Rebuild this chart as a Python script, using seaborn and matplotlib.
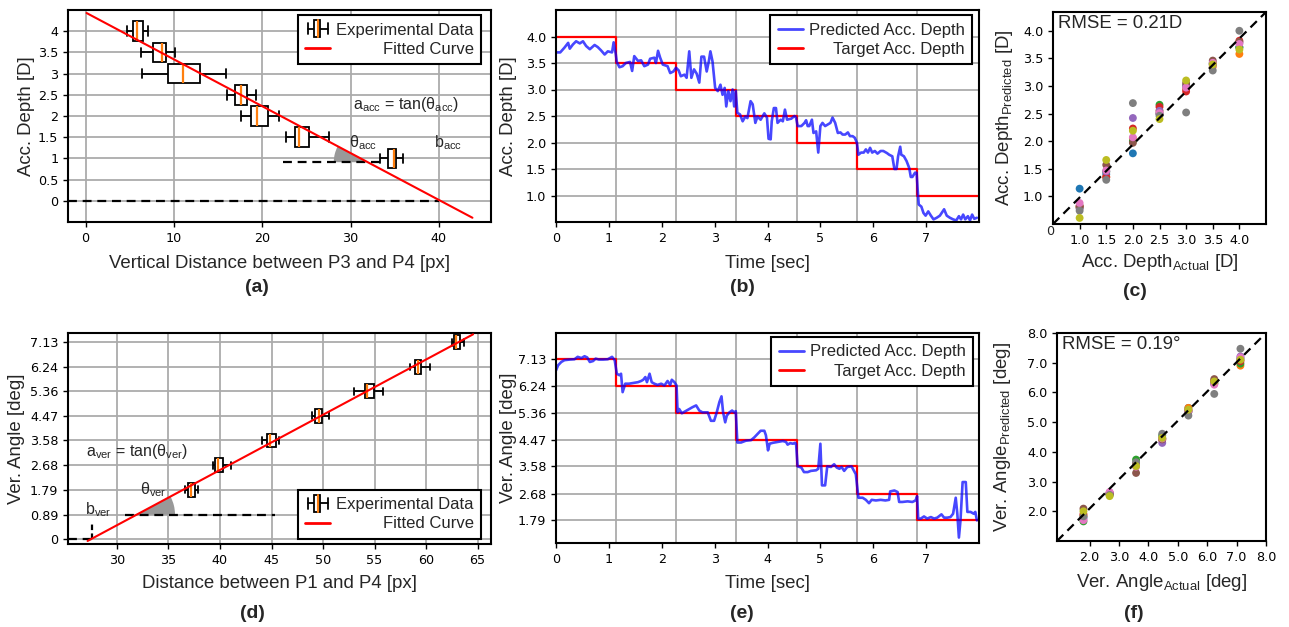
import numpy as np
import pandas as pd
import matplotlib
matplotlib.use("Agg")
import matplotlib.pyplot as plt
import seaborn as sns
from matplotlib.patches import Rectangle, Wedge
from matplotlib.lines import Line2D
from matplotlib.legend_handler import HandlerBase
from matplotlib.transforms import ScaledTranslation

# ---------------- data ----------------
# (a) accommodation depth vs vertical distance (box stats)
a_depth = [4.0, 3.5, 3.0, 2.5, 2.0, 1.5, 1.0]
a_whislo = [4.65, 6.31, 6.42, 15.98, 17.60, 22.70, 33.35]
a_q1 = [5.33, 7.67, 9.37, 16.92, 18.73, 23.72, 34.22]
a_med = [5.82, 8.61, 11.03, 17.60, 19.38, 24.14, 34.86]
a_q3 = [6.53, 9.14, 12.92, 18.24, 20.66, 25.27, 35.13]
a_whishi = [7.10, 10.12, 15.94, 19.26, 21.90, 27.50, 35.88]
a_fit_slope = -0.1105
a_fit_intercept = 4.44
a_fit_xrange = [0.1, 43.8]
a_zero_x = [-2.0, 40.0]
a_zero_y = [0.0, 0.0]
a_ref_x = [22.4, 33.35]
a_ref_y = [0.91, 0.91]
a_yticks = [0, 0.5, 1, 1.5, 2, 2.5, 3, 3.5, 4]
a_yticklabels = ["0", "0.5", "1", "1.5", "2", "2.5", "3", "3.5", "4"]
a_xticks = [0, 10, 20, 30, 40]

# (d) vertical angle vs distance (box stats)
d_angle = [1.79, 2.68, 3.58, 4.47, 5.36, 6.24, 7.13]
d_whislo = [36.63, 39.32, 44.08, 48.93, 52.98, 58.41, 62.52]
d_q1 = [36.86, 39.55, 44.56, 49.26, 54.11, 58.90, 62.75]
d_med = [37.18, 39.77, 44.82, 49.58, 54.27, 59.22, 62.94]
d_q3 = [37.60, 40.29, 45.44, 49.94, 54.92, 59.55, 63.27]
d_whishi = [37.90, 41.10, 45.70, 50.55, 55.79, 60.42, 63.66]
d_fit_slope = 0.2
d_fit_intercept = -5.49
d_fit_xrange = [27.15, 64.56]
d_zero_x = [25.25, 27.6]
d_zero_y = [0.0, 0.0]
d_bvert_x = [27.6, 27.6]
d_bvert_y = [0.0, 0.55]
d_ref_x = [30.8, 45.3]
d_ref_y = [0.89, 0.89]
d_yticks = [0, 0.89, 1.79, 2.68, 3.58, 4.47, 5.36, 6.24, 7.13]
d_yticklabels = ["0", "0.89", "1.79", "2.68", "3.58", "4.47", "5.36", "6.24", "7.13"]
d_xticks = [30, 35, 40, 45, 50, 55, 60, 65]

# (b) accommodation depth over time
b_time = [0.00, 0.08, 0.16, 0.23, 0.26, 0.32, 0.38, 0.45, 0.51, 0.57, 0.64, 0.73, 0.79, 0.85,
          0.92, 0.98, 1.06, 1.09, 1.13, 1.15, 1.20, 1.26, 1.32, 1.40, 1.44, 1.48, 1.55, 1.61,
          1.67, 1.74, 1.78, 1.86, 1.89, 1.93, 1.97, 2.02, 2.11, 2.16, 2.22, 2.27, 2.32, 2.36,
          2.43, 2.47, 2.52, 2.56, 2.61, 2.66, 2.71, 2.75, 2.80, 2.85, 2.89, 2.92, 2.96, 3.01,
          3.06, 3.11, 3.15, 3.19, 3.22, 3.26, 3.30, 3.34, 3.37, 3.40, 3.43, 3.48, 3.53, 3.58,
          3.62, 3.68, 3.72, 3.77, 3.81, 3.87, 3.94, 3.99, 4.02, 4.06, 4.08, 4.12, 4.16, 4.19,
          4.25, 4.29, 4.33, 4.37, 4.45, 4.51, 4.54, 4.57, 4.64, 4.70, 4.73, 4.76, 4.79, 4.84,
          4.87, 4.92, 4.96, 5.00, 5.04, 5.09, 5.14, 5.19, 5.23, 5.28, 5.33, 5.38, 5.42, 5.47,
          5.52, 5.56, 5.61, 5.65, 5.69, 5.72, 5.77, 5.82, 5.86, 5.90, 5.94, 5.98, 6.03, 6.08,
          6.14, 6.19, 6.26, 6.30, 6.36, 6.40, 6.44, 6.47, 6.51, 6.53, 6.58, 6.63, 6.68, 6.71,
          6.74, 6.79, 6.82, 6.84, 6.86, 6.91, 6.95, 6.99, 7.04, 7.09, 7.14, 7.20, 7.26, 7.34,
          7.39, 7.45, 7.51, 7.57, 7.62, 7.66, 7.70, 7.74, 7.79, 7.83, 7.87, 7.91, 7.96]
b_pred = [3.70, 3.70, 3.79, 3.88, 3.77, 3.85, 3.91, 3.87, 3.91, 3.82, 3.76, 3.84, 3.80, 3.74,
          3.66, 3.72, 3.70, 3.89, 3.67, 3.52, 3.42, 3.44, 3.50, 3.52, 3.35, 3.63, 3.54, 3.55,
          3.44, 3.47, 3.58, 3.60, 3.50, 3.73, 3.60, 3.47, 3.44, 3.31, 3.34, 3.41, 3.36, 3.25,
          3.28, 3.22, 3.72, 3.22, 3.38, 3.30, 3.13, 3.62, 3.62, 3.34, 3.53, 3.72, 3.53, 3.03,
          2.97, 3.09, 2.90, 3.03, 2.68, 2.97, 2.78, 3.00, 2.68, 2.97, 2.56, 2.53, 2.40, 2.49,
          2.46, 2.78, 2.72, 2.37, 2.49, 2.43, 2.55, 2.47, 2.07, 2.06, 2.40, 2.65, 2.65, 2.37,
          2.43, 2.40, 2.62, 2.43, 2.45, 2.50, 2.47, 2.31, 2.31, 2.37, 2.42, 2.31, 2.31, 2.43,
          2.18, 2.21, 1.81, 2.31, 2.37, 2.31, 2.34, 2.37, 2.47, 2.37, 2.18, 2.19, 2.15, 2.15,
          2.19, 2.12, 2.12, 2.09, 2.00, 1.77, 1.81, 1.81, 1.87, 1.81, 1.90, 1.81, 1.84, 1.79,
          1.84, 1.84, 1.80, 1.77, 1.74, 1.50, 1.50, 1.74, 1.92, 1.77, 1.74, 1.65, 1.52, 1.35,
          1.35, 1.43, 1.43, 1.11, 0.83, 0.79, 0.67, 0.62, 0.70, 0.62, 0.55, 0.58, 0.62, 0.74,
          0.62, 0.58, 0.55, 0.53, 0.61, 0.55, 0.64, 0.55, 0.61, 0.53, 0.64, 0.56, 0.58]
b_step_time = [0.0, 1.13, 2.27, 3.41, 4.55, 5.69, 6.83, 8.0]
b_target = [4.0, 3.5, 3.0, 2.5, 2.0, 1.5, 1.0, 1.0]
b_yticks = [1.0, 1.5, 2.0, 2.5, 3.0, 3.5, 4.0]
time_ticks = [0, 1, 2, 3, 4, 5, 6, 7]
step_grid = [1.13, 2.27, 3.41, 4.55, 5.69, 6.83]

# (e) vertical angle over time
e_time = [0.00, 0.04, 0.10, 0.16, 0.26, 0.35, 0.41, 0.48, 0.54, 0.59, 0.64, 0.70, 0.75, 0.81,
          0.89, 0.98, 1.06, 1.11, 1.15, 1.20, 1.23, 1.26, 1.31, 1.38, 1.45, 1.55, 1.61, 1.65,
          1.69, 1.72, 1.77, 1.81, 1.86, 1.92, 1.99, 2.05, 2.11, 2.16, 2.19, 2.24, 2.28, 2.30,
          2.33, 2.38, 2.45, 2.52, 2.58, 2.65, 2.71, 2.77, 2.87, 2.93, 2.99, 3.04, 3.09, 3.13,
          3.16, 3.20, 3.23, 3.28, 3.33, 3.37, 3.40, 3.43, 3.50, 3.59, 3.69, 3.75, 3.81, 3.87,
          3.94, 3.97, 4.01, 4.04, 4.10, 4.20, 4.29, 4.35, 4.38, 4.43, 4.48, 4.52, 4.54, 4.57,
          4.64, 4.69, 4.76, 4.82, 4.92, 4.96, 5.00, 5.03, 5.09, 5.13, 5.20, 5.26, 5.31, 5.36,
          5.40, 5.45, 5.51, 5.59, 5.63, 5.67, 5.72, 5.80, 5.86, 5.92, 5.97, 6.05, 6.14, 6.23,
          6.30, 6.32, 6.40, 6.46, 6.49, 6.55, 6.65, 6.74, 6.80, 6.83, 6.85, 6.90, 6.96, 7.02,
          7.09, 7.15, 7.21, 7.29, 7.34, 7.40, 7.46, 7.51, 7.56, 7.59, 7.62, 7.65, 7.69, 7.75,
          7.78, 7.84, 7.90, 7.93, 7.96]
e_pred = [6.76, 6.93, 7.04, 7.10, 7.12, 7.13, 7.21, 7.17, 7.23, 7.19, 7.04, 7.07, 7.15, 7.12,
          7.12, 7.13, 7.21, 7.10, 6.65, 6.60, 6.65, 6.04, 6.32, 6.32, 6.34, 6.37, 6.41, 6.45,
          6.54, 6.37, 6.65, 6.37, 6.32, 6.28, 6.32, 6.26, 6.41, 6.28, 6.45, 6.37, 6.26, 5.37,
          5.48, 5.34, 5.41, 5.48, 5.54, 5.60, 5.43, 5.37, 5.37, 5.09, 5.09, 5.37, 5.71, 5.90,
          5.37, 5.04, 5.26, 5.37, 5.43, 5.37, 5.41, 4.37, 4.37, 4.43, 4.45, 4.54, 4.65, 4.76,
          4.76, 4.61, 4.11, 4.33, 4.36, 4.39, 4.42, 4.39, 4.30, 4.35, 4.33, 4.36, 4.33, 3.58,
          3.54, 3.39, 3.39, 3.43, 3.45, 3.50, 4.33, 2.95, 2.95, 3.58, 3.56, 3.65, 3.54, 3.50,
          3.56, 3.43, 3.56, 3.58, 3.45, 3.32, 2.54, 2.54, 2.47, 2.36, 2.47, 2.45, 2.47, 2.45,
          2.47, 2.75, 2.78, 2.73, 2.40, 2.40, 2.42, 2.40, 2.45, 2.59, 1.85, 1.85, 1.92, 1.85,
          1.90, 1.85, 1.88, 1.99, 1.88, 1.88, 1.90, 2.01, 2.54, 2.01, 1.22, 1.79, 3.06, 3.06,
          2.07, 2.07, 2.01, 2.07, 1.79]
e_step_time = [0.0, 1.13, 2.27, 3.41, 4.55, 5.69, 6.83, 8.0]
e_target = [7.13, 6.24, 5.36, 4.47, 3.58, 2.68, 1.79, 1.79]
e_yticks = [1.79, 2.68, 3.58, 4.47, 5.36, 6.24, 7.13]

# (c) predicted vs actual accommodation depth (one list per subject)
c_actual = [1.0, 1.5, 2.0, 2.5, 3.0, 3.5, 4.0]
c_subjects = {
    "S1": [1.14, 1.40, 1.78, 2.50, 2.95, 3.40, 3.70],
    "S2": [0.80, 1.35, 2.05, 2.55, 2.95, 3.35, 3.58],
    "S3": [0.80, 1.45, 2.00, 2.66, 3.00, 3.42, 3.70],
    "S4": [0.82, 1.35, 2.23, 2.62, 2.90, 3.40, 3.82],
    "S5": [0.78, 1.45, 2.42, 2.55, 3.00, 3.38, 3.78],
    "S6": [0.83, 1.57, 1.97, 2.50, 3.05, 3.46, 3.80],
    "S7": [0.88, 1.47, 2.07, 2.51, 2.97, 3.42, 3.76],
    "S8": [0.74, 1.30, 2.69, 2.46, 2.52, 3.28, 4.00],
    "S9": [0.61, 1.66, 2.19, 2.40, 3.10, 3.39, 3.66],
}
c_ticks = [1.0, 1.5, 2.0, 2.5, 3.0, 3.5, 4.0]

# (f) predicted vs actual vertical angle
f_actual = [1.79, 2.68, 3.58, 4.47, 5.36, 6.24, 7.13]
f_subjects = {
    "S1": [1.80, 2.60, 3.60, 4.45, 5.48, 6.30, 7.15],
    "S2": [1.85, 2.60, 3.55, 4.40, 5.48, 6.30, 6.90],
    "S3": [1.66, 2.58, 3.74, 4.55, 5.40, 6.35, 6.97],
    "S4": [1.90, 2.62, 3.60, 4.45, 5.40, 6.40, 7.05],
    "S5": [1.75, 2.62, 3.55, 4.30, 5.35, 6.30, 7.21],
    "S6": [2.09, 2.55, 3.29, 4.42, 5.35, 6.45, 7.10],
    "S7": [1.70, 2.65, 3.50, 4.45, 5.38, 6.26, 7.18],
    "S8": [1.83, 2.55, 3.65, 4.61, 5.22, 5.95, 7.47],
    "S9": [2.00, 2.51, 3.52, 4.47, 5.42, 6.37, 7.10],
}
f_ticks = [2.0, 3.0, 4.0, 5.0, 6.0, 7.0, 8.0]

# ---------------- style ----------------
sns.set_style("ticks")
plt.rcParams.update({
    "font.family": ["Liberation Sans", "DejaVu Sans"],
    "mathtext.fontset": "custom",
    "mathtext.rm": "Liberation Sans",
    "mathtext.it": "Liberation Sans:italic",
    "mathtext.bf": "Liberation Sans:bold",
    "axes.linewidth": 1.5,
    "axes.edgecolor": "black",
    "xtick.color": "black",
    "ytick.color": "black",
    "xtick.major.width": 1.0,
    "ytick.major.width": 1.0,
    "xtick.major.size": 3.5,
    "ytick.major.size": 3.5,
    "grid.color": "#ababab",
    "grid.linewidth": 1.3,
    "axes.axisbelow": True,
})

W, H = 1289, 627
fig = plt.figure(figsize=(W / 100, H / 100), dpi=100)


def add_ax(left, right, top, bottom):
    return fig.add_axes([left / W, 1 - bottom / H, (right - left) / W, (bottom - top) / H])


axA = add_ax(68, 491, 10, 222)
axB = add_ax(556, 979, 10, 222)
axC = add_ax(1053, 1266, 12, 224)
axD = add_ax(68, 491, 333, 544)
axE = add_ax(556, 979, 333, 543)
axF = add_ax(1057, 1266, 333, 541)

TICK_FS = 9.2
LAB_FS = 13.4
LEG_FS = 12
ANN_FS = 11.5
GRAYW = "#999999"
DASH = dict(color="black", lw=1.6, dashes=(4, 2.6))


def style_ticks(ax):
    ax.tick_params(labelsize=TICK_FS, labelfontfamily="DejaVu Sans")
    for s in ax.spines.values():
        s.set_visible(True)
        s.set_linewidth(1.5)


class BoxProxy(Rectangle):
    pass


class BoxHandler(HandlerBase):
    def create_artists(self, legend, orig_handle, xdescent, ydescent, width, height,
                       fontsize, trans):
        x0, y0 = -xdescent, -ydescent
        cy = y0 + height / 2
        xl, xr = x0 + 0.1 * width, x0 + 0.9 * width
        bl, br = x0 + 0.36 * width, x0 + 0.6 * width
        bh, ch = height * 1.5, height * 0.9
        mx = x0 + 0.52 * width
        arts = [
            Line2D([xl, bl], [cy, cy], color="black", lw=1.3),
            Line2D([br, xr], [cy, cy], color="black", lw=1.3),
            Line2D([xl, xl], [cy - ch / 2, cy + ch / 2], color="black", lw=1.3),
            Line2D([xr, xr], [cy - ch / 2, cy + ch / 2], color="black", lw=1.3),
            Rectangle((bl, cy - bh / 2), br - bl, bh, facecolor="white", edgecolor="black", lw=1.3),
            Line2D([mx, mx], [cy - bh / 2, cy + bh / 2], color="#ff7f0e", lw=1.5),
        ]
        for a in arts:
            a.set_transform(trans)
        return arts


def box_frame(pos, lo, q1, med, q3, hi, pos_name):
    rows = []
    for p, vals in zip(pos, zip(lo, q1, med, q3, hi)):
        for v in vals:
            rows.append({pos_name: p, "value": v})
    return pd.DataFrame(rows)


def draw_boxes(ax, df, pos_name, width):
    sns.boxplot(data=df, x="value", y=pos_name, orient="y", native_scale=True,
                width=width, whis=(0, 100), color="white", linecolor="black",
                linewidth=1.3, fill=True, showfliers=False,
                medianprops=dict(color="#ff7f0e", linewidth=1.6), ax=ax)


def add_wedge(ax, xc, yc, slope, radius_in, side):
    p0 = ax.transData.transform((xc, yc))
    p1 = ax.transData.transform((xc + 1, yc + slope))
    ang = np.degrees(np.arctan2(p1[1] - p0[1], p1[0] - p0[0]))
    tr = fig.dpi_scale_trans + ScaledTranslation(xc, yc, ax.transData)
    if side == "left":
        th1, th2 = 180 + ang, 180
    else:
        th1, th2 = 0, ang
    ax.add_patch(Wedge((0, 0), radius_in, th1, th2, transform=tr, facecolor=GRAYW,
                       edgecolor="none", zorder=2.5))


def make_legend(ax, handles, labels, loc, anchor, handler_map=None):
    leg = ax.legend(handles, labels, loc=loc, bbox_to_anchor=anchor, borderaxespad=0,
                    fontsize=LEG_FS, frameon=True, fancybox=False, framealpha=1,
                    edgecolor="black", handlelength=1.5, handletextpad=0.35,
                    labelspacing=0.25, borderpad=0.45, handler_map=handler_map)
    leg.get_frame().set_linewidth(1.5)
    return leg


legends = []

# ---------------- (a) ----------------
axA.grid(True)
dfA = box_frame(a_depth, a_whislo, a_q1, a_med, a_q3, a_whishi, "depth")
draw_boxes(axA, dfA, "depth", 0.92)
a_fx = np.array(a_fit_xrange)
sns.lineplot(x=a_fx, y=a_fit_slope * a_fx + a_fit_intercept, color="red", lw=1.5, ax=axA,
             zorder=4)
axA.plot(a_zero_x, a_zero_y, zorder=3, **DASH)
axA.plot(a_ref_x, a_ref_y, zorder=3, **DASH)
axA.set_xlim(-2, 45.9)
axA.set_ylim(-0.5, 4.5)
axA.set_xticks(a_xticks)
axA.set_xticklabels([str(v) for v in a_xticks])
axA.set_yticks(a_yticks)
axA.set_yticklabels(a_yticklabels)
axA.set_xlabel("Vertical Distance between P3 and P4 [px]", fontsize=LAB_FS)
axA.set_ylabel("Acc. Depth [D]", fontsize=LAB_FS)
a_cross_x = (a_ref_y[0] - a_fit_intercept) / a_fit_slope
add_wedge(axA, a_cross_x, a_ref_y[0], a_fit_slope, 0.34, "left")
axA.text(30.3, 2.27, r"a$_{\mathrm{acc}}$ = tan(θ$_{\mathrm{acc}}$)", fontsize=ANN_FS,
         va="center", ha="left")
axA.text(29.8, 1.36, r"θ$_{\mathrm{acc}}$", fontsize=ANN_FS, va="center", ha="left")
axA.text(39.4, 1.36, r"b$_{\mathrm{acc}}$", fontsize=ANN_FS, va="center", ha="left")
style_ticks(axA)
legends.append(make_legend(axA, [BoxProxy((0, 0), 1, 1), Line2D([], [], color="red", lw=2)],
                           ["Experimental Data", "Fitted Curve"], "upper right",
                           (0.9764, 0.9764), {BoxProxy: BoxHandler()}))

# ---------------- (d) ----------------
axD.grid(True)
dfD = box_frame(d_angle, d_whislo, d_q1, d_med, d_q3, d_whishi, "angle")
draw_boxes(axD, dfD, "angle", 0.57)
d_fx = np.array(d_fit_xrange)
sns.lineplot(x=d_fx, y=d_fit_slope * d_fx + d_fit_intercept, color="red", lw=1.5, ax=axD,
             zorder=4)
axD.plot(d_zero_x, d_zero_y, zorder=3, **DASH)
axD.plot(d_bvert_x, d_bvert_y, zorder=3, color="black", lw=1.6, dashes=(2.5, 1.5))
axD.plot(d_ref_x, d_ref_y, zorder=3, **DASH)
axD.set_xlim(25.25, 66.3)
axD.set_ylim(-0.17, 7.47)
axD.set_xticks(d_xticks)
axD.set_xticklabels([str(v) for v in d_xticks])
axD.set_yticks(d_yticks)
axD.set_yticklabels(d_yticklabels)
axD.set_xlabel("Distance between P1 and P4 [px]", fontsize=LAB_FS)
axD.set_ylabel("Ver. Angle [deg]", fontsize=LAB_FS)
d_cross_x = (d_ref_y[0] - d_fit_intercept) / d_fit_slope
add_wedge(axD, d_cross_x, d_ref_y[0], d_fit_slope, 0.385, "right")
axD.text(27.0, 3.17, r"a$_{\mathrm{ver}}$ = tan(θ$_{\mathrm{ver}}$)", fontsize=ANN_FS,
         va="center", ha="left")
axD.text(32.2, 1.78, r"θ$_{\mathrm{ver}}$", fontsize=ANN_FS, va="center", ha="left")
axD.text(26.9, 1.06, r"b$_{\mathrm{ver}}$", fontsize=ANN_FS, va="center", ha="left")
style_ticks(axD)
legends.append(make_legend(axD, [BoxProxy((0, 0), 1, 1), Line2D([], [], color="red", lw=2)],
                           ["Experimental Data", "Fitted Curve"], "lower right",
                           (0.9764, 0.0237), {BoxProxy: BoxHandler()}))


# ---------------- (b) & (e) ----------------
def time_panel(ax, t, pred, st, tgt, yticks, ylim, ylabel, ytlabels, anchor):
    ax.set_xticks(step_grid, minor=True)
    ax.grid(False)
    ax.grid(True, axis="y", which="major")
    ax.grid(True, axis="x", which="minor")
    ax.tick_params(which="minor", length=0)
    sns.lineplot(x=st, y=tgt, drawstyle="steps-post", color="red", lw=1.6, ax=ax,
                 estimator=None, sort=False)
    sns.lineplot(x=t, y=pred, color="blue", alpha=0.72, lw=1.9, ax=ax, estimator=None,
                 sort=False)
    ax.set_xlim(0, 8)
    ax.set_ylim(*ylim)
    ax.set_xticks(time_ticks)
    ax.set_xticklabels([str(v) for v in time_ticks])
    ax.set_yticks(yticks)
    ax.set_yticklabels(ytlabels)
    ax.set_xlabel("Time [sec]", fontsize=LAB_FS)
    ax.set_ylabel(ylabel, fontsize=LAB_FS)
    style_ticks(ax)
    hs = [Line2D([], [], color="blue", alpha=0.72, lw=2), Line2D([], [], color="red", lw=2)]
    legends.append(make_legend(ax, hs, ["Predicted Acc. Depth", "Target Acc. Depth"],
                               "upper right", anchor))


time_panel(axB, b_time, b_pred, b_step_time, b_target, b_yticks, (0.5, 4.5),
           "Acc. Depth [D]", [f"{v:.1f}" for v in b_yticks], (0.9835, 0.976))
time_panel(axE, e_time, e_pred, e_step_time, e_target, e_yticks, (1.04, 8.0),
           "Ver. Angle [deg]", [f"{v:.2f}" for v in e_yticks], (0.986, 0.981))


# ---------------- (c) & (f) ----------------
def scatter_panel(ax, actual, subjects, xlim, ylim, ticks, xlabel, ylabel, rmse):
    rows = []
    for name, vals in subjects.items():
        for a, p in zip(actual, vals):
            rows.append({"actual": a, "pred": p, "subject": name})
    df = pd.DataFrame(rows)
    pal = sns.color_palette("tab10", len(subjects))
    sns.scatterplot(data=df, x="actual", y="pred", hue="subject", palette=pal, s=32,
                    linewidth=0, legend=False, ax=ax, zorder=3)
    ax.plot([0, 1], [0, 1], transform=ax.transAxes, zorder=4, **DASH)
    ax.set_xlim(*xlim)
    ax.set_ylim(*ylim)
    ax.set_xticks(ticks)
    ax.set_xticklabels([f"{v:.1f}" for v in ticks])
    ax.set_yticks(ticks)
    ax.set_yticklabels([f"{v:.1f}" for v in ticks])
    ax.set_xlabel(xlabel, fontsize=LAB_FS)
    ax.set_ylabel(ylabel, fontsize=LAB_FS)
    ax.text(0.025, 0.985, rmse, transform=ax.transAxes, fontsize=LAB_FS, va="top", ha="left")
    style_ticks(ax)


scatter_panel(axC, c_actual, c_subjects, (0.5, 4.5), (0.5, 4.34), c_ticks,
              r"Acc. Depth$_{\mathrm{Actual}}$ [D]", r"Acc. Depth$_{\mathrm{Predicted}}$ [D]",
              "RMSE = 0.21D")
axC.text(-0.012, -0.005, "0", transform=axC.transAxes, fontsize=TICK_FS,
         family="DejaVu Sans", ha="center", va="top")
scatter_panel(axF, f_actual, f_subjects, (0.89, 8.0), (1.0, 8.0), f_ticks,
              r"Ver. Angle$_{\mathrm{Actual}}$ [deg]", r"Ver. Angle$_{\mathrm{Predicted}}$ [deg]",
              "RMSE = 0.19°")

# label positions
axA.xaxis.set_label_coords(0.5, -0.156)
axB.xaxis.set_label_coords(0.5, -0.156)
axC.xaxis.set_label_coords(0.5, -0.13)
axD.xaxis.set_label_coords(0.5, -0.147)
axE.xaxis.set_label_coords(0.5, -0.152)
axF.xaxis.set_label_coords(0.5, -0.148)
for ax in (axA, axB, axC, axD, axE, axF):
    ax.xaxis.label.set_va("top")
axA.yaxis.set_label_coords(-0.078, 0.5)
axD.yaxis.set_label_coords(-0.102, 0.5)
axB.yaxis.set_label_coords(-0.092, 0.5)
axE.yaxis.set_label_coords(-0.092, 0.5)
axC.yaxis.set_label_coords(-0.178, 0.5)
axF.yaxis.set_label_coords(-0.21, 0.5)

# sub-figure labels
for lab, (px, py) in zip(["(a)", "(b)", "(c)", "(d)", "(e)", "(f)"],
                         [(257, 288), (742, 288), (1135, 291), (252, 614), (742, 614), (1134, 614)]):
    fig.text(px / W, 1 - py / H, lab, fontsize=14, fontweight="bold", ha="center", va="center")

# right-align legend labels
fig.canvas.draw()
renderer = fig.canvas.get_renderer()
for leg in legends:
    texts = leg.get_texts()
    ws = [t.get_window_extent(renderer).width for t in texts]
    wm = max(ws)
    for t, w in zip(texts, ws):
        t.set_position((wm - w, 0))

fig.savefig("out.png", dpi=100)
